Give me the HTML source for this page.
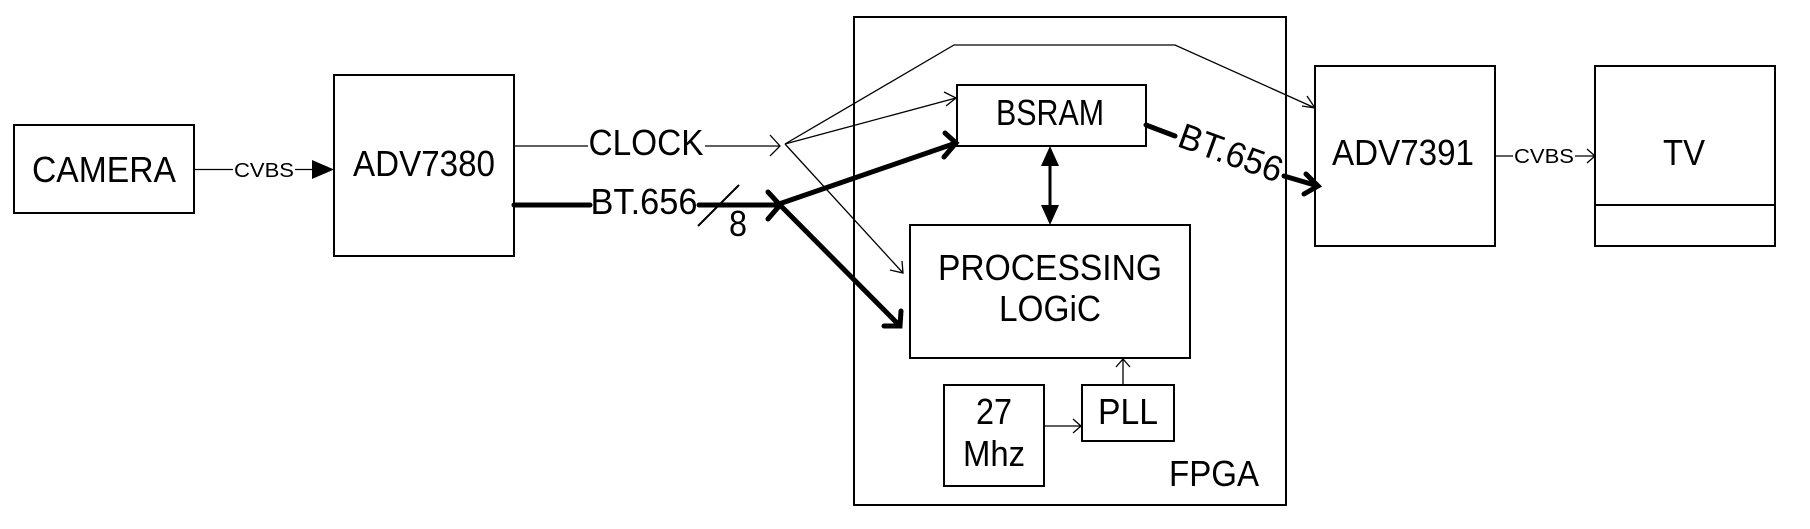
<!DOCTYPE html>
<html><head><meta charset="utf-8"><style>
html,body{margin:0;padding:0;background:#fff;}
svg{display:block;}
text{font-family:"Liberation Sans",sans-serif;fill:#000;}
</style></head><body>
<svg width="1810" height="529" viewBox="0 0 1810 529" xmlns="http://www.w3.org/2000/svg">
<g fill="none" stroke="#000" stroke-width="2">
<rect x="14" y="125" width="180" height="88"/>
<rect x="334" y="75" width="180" height="181"/>
<rect x="854" y="17" width="432" height="488"/>
<rect x="957" y="85" width="189" height="61"/>
<rect x="910" y="225" width="280" height="133"/>
<rect x="944" y="385" width="100" height="101"/>
<rect x="1082" y="385" width="92" height="56"/>
<rect x="1315" y="66" width="180" height="180"/>
<rect x="1595" y="66" width="180" height="180"/>
<line x1="1595" y1="205" x2="1775" y2="205"/>
</g>
<g fill="none" stroke="#000" stroke-width="1.3">
<line x1="194" y1="169.5" x2="233" y2="169.5"/>
<line x1="295" y1="169.5" x2="314" y2="169.5"/>
<line x1="514" y1="146" x2="588" y2="146"/>
<line x1="705" y1="146" x2="779" y2="146"/>
<polyline points="770,135 780,146 770,156"/>
<line x1="785" y1="144" x2="956" y2="98"/>
<polyline points="944,92 956,98 946,106"/>
<polyline points="785,144 954,45 1175,45 1315,108"/>
<polyline points="1302,106 1315,108 1307,96"/>
<line x1="785" y1="144" x2="903" y2="273"/>
<polyline points="890,270 903,273 902,261"/>
<line x1="1123" y1="385" x2="1123" y2="359"/>
<polyline points="1116,367 1123,359 1130,367"/>
<line x1="1044" y1="426" x2="1081" y2="426"/>
<polyline points="1073,419 1081,426 1073,433"/>
<line x1="1495" y1="156" x2="1513" y2="156"/>
<line x1="1575" y1="156" x2="1595" y2="156"/>
<polyline points="1587,149 1595,156 1587,163"/>
<line x1="698" y1="226" x2="739" y2="185" stroke-width="2"/>
</g>
<polygon points="312,160 334,169.5 312,179" fill="#000"/>
<g fill="none" stroke="#000" stroke-width="5" stroke-linecap="round">
<line x1="514" y1="205" x2="590" y2="205"/>
<line x1="699" y1="205" x2="779" y2="205"/>
<polyline points="768,192 780,205 768,219"/>
<line x1="779" y1="204" x2="956" y2="143"/>
<polyline points="945,133 956,143 944,157"/>
<line x1="779" y1="204" x2="900" y2="326"/>
<polyline points="901,311 900,326 884,326"/>
<line x1="1146" y1="125" x2="1175" y2="136"/>
<line x1="1284" y1="176" x2="1318" y2="186"/>
<polyline points="1306,174 1318,186 1304,194"/>
</g>
<line x1="1050" y1="160" x2="1050" y2="212" stroke="#000" stroke-width="3"/>
<polygon points="1050,146 1041,166 1059,166" fill="#000"/>
<polygon points="1050,225 1041,205 1059,205" fill="#000"/>
<g font-size="36" text-anchor="middle" lengthAdjust="spacingAndGlyphs">
<text x="104" y="182" textLength="144" lengthAdjust="spacingAndGlyphs">CAMERA</text>
<text x="424" y="176" textLength="142" lengthAdjust="spacingAndGlyphs">ADV7380</text>
<text x="646" y="155" textLength="115" lengthAdjust="spacingAndGlyphs">CLOCK</text>
<text x="644" y="214" textLength="107" lengthAdjust="spacingAndGlyphs">BT.656</text>
<text x="738" y="236" textLength="18" lengthAdjust="spacingAndGlyphs">8</text>
<text x="1050" y="125" textLength="108" lengthAdjust="spacingAndGlyphs">BSRAM</text>
<text x="1050" y="280" textLength="224" lengthAdjust="spacingAndGlyphs">PROCESSING</text>
<text x="1050" y="321" textLength="102" lengthAdjust="spacingAndGlyphs">LOGiC</text>
<text x="994" y="424" textLength="36" lengthAdjust="spacingAndGlyphs">27</text>
<text x="994" y="466" textLength="62" lengthAdjust="spacingAndGlyphs">Mhz</text>
<text x="1128" y="424" textLength="60" lengthAdjust="spacingAndGlyphs">PLL</text>
<text x="1214" y="486" textLength="90" lengthAdjust="spacingAndGlyphs">FPGA</text>
<text x="1403" y="165" textLength="142" lengthAdjust="spacingAndGlyphs">ADV7391</text>
<text x="1684" y="165" textLength="42" lengthAdjust="spacingAndGlyphs">TV</text>
<text x="1230" y="165" transform="rotate(20 1230 155)" textLength="108" lengthAdjust="spacingAndGlyphs">BT.656</text>
</g>
<g font-size="20" text-anchor="middle">
<text x="264" y="177" textLength="60" lengthAdjust="spacingAndGlyphs">CVBS</text>
<text x="1544" y="163" textLength="60" lengthAdjust="spacingAndGlyphs">CVBS</text>
</g>
</svg>
</body></html>
